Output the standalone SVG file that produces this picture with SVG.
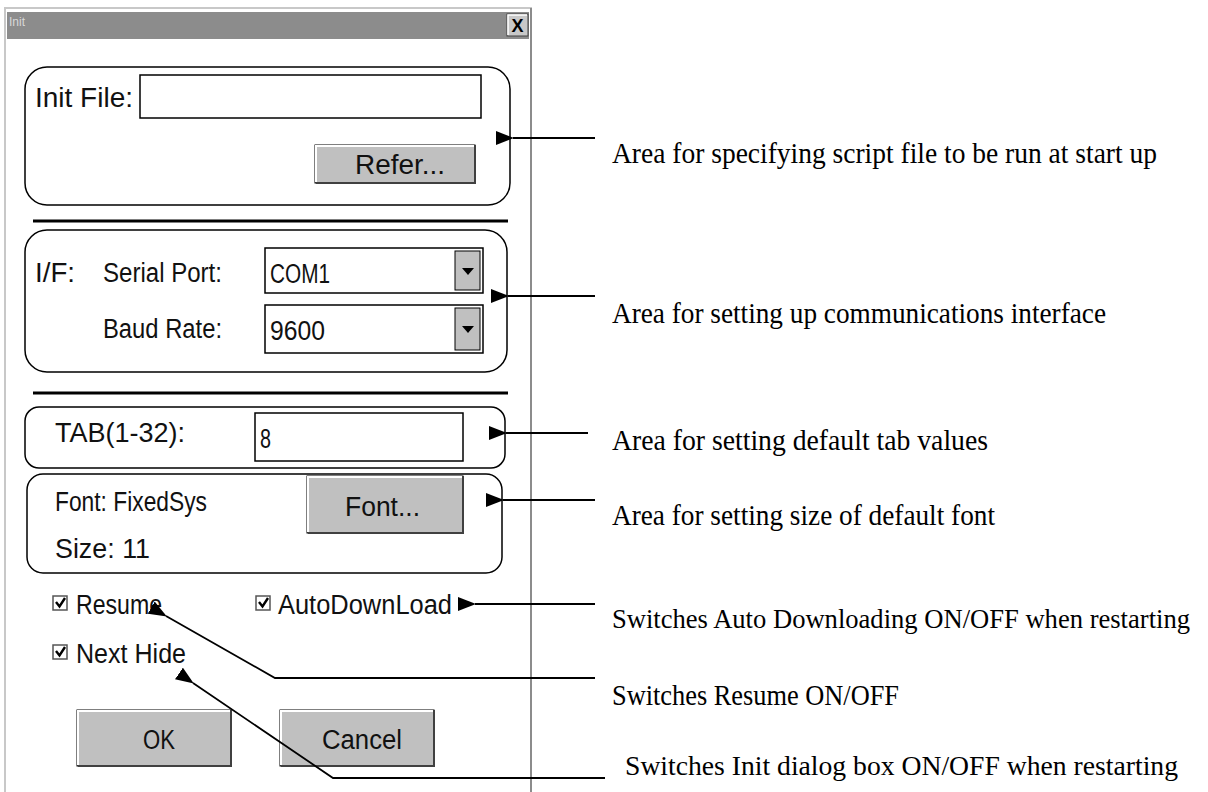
<svg xmlns="http://www.w3.org/2000/svg" width="1208" height="792" viewBox="0 0 1208 792">
<defs>
<style>
.ui{font-family:"Liberation Sans","DejaVu Sans",sans-serif;font-size:27px;fill:#111;}
.lbl{font-family:"Liberation Serif","DejaVu Serif",serif;font-size:30px;fill:#000;}
.lbs{font-size:27px;}
.grp{fill:none;stroke:#000;stroke-width:1.5;}
.btn{fill:#c0c0c0;stroke:#000;stroke-width:1;}
.hl{stroke:#fff;stroke-width:2;fill:none;}
.sh{stroke:#404040;stroke-width:2;fill:none;}
.fld{fill:#fff;stroke:#000;stroke-width:1.5;}
.cb{fill:#fff;stroke:#555;stroke-width:1.5;}
.con{fill:none;stroke:#000;stroke-width:1.8;}
</style>
<marker id="ah" viewBox="0 0 18 14" refX="1" refY="7" markerWidth="18" markerHeight="14" markerUnits="userSpaceOnUse" orient="auto">
<path d="M0,7 L18,0 L18,14 z" fill="#000"/>
</marker>
</defs>
<rect width="1208" height="792" fill="#fff"/>

<g id="window">
<rect x="5" y="8" width="526" height="790" fill="#fff" stroke="#c8c8c8" stroke-width="2"/>
<line x1="531" y1="8" x2="531" y2="792" stroke="#8c8c8c" stroke-width="2"/>
<rect x="7" y="12" width="522" height="27" fill="#8c8c8c"/>
<text x="9" y="26" font-family="Liberation Sans,sans-serif" font-size="12" fill="#d8d8d8">Init</text>
<g id="close">
<rect x="507" y="14" width="21" height="22" fill="#c8c8c8" stroke="#404040" stroke-width="1"/>
<polyline points="508,35 508,15 527,15" fill="none" stroke="#fff" stroke-width="1.5"/>
<text x="517.5" y="32" text-anchor="middle" font-family="Liberation Sans,sans-serif" font-weight="bold" font-size="18" fill="#000">X</text>
</g>
</g>

<g id="initfile">
<rect class="grp" x="25" y="67" width="485" height="138" rx="22"/>
<text class="ui" x="35" y="107" textLength="98" lengthAdjust="spacingAndGlyphs">Init File:</text>
<rect class="fld" x="140" y="75" width="341" height="43"/>
<g id="refer">
<rect class="btn" x="315" y="145" width="160" height="38"/>
<polyline class="hl" points="316,182 316,146 474,146"/>
<polyline class="sh" points="316,183 475,183 475,145"/>
<text class="ui" x="355" y="174" textLength="90" lengthAdjust="spacingAndGlyphs">Refer...</text>
</g>
</g>

<line x1="33" y1="221" x2="508" y2="221" stroke="#000" stroke-width="3"/>

<g id="iface">
<rect class="grp" x="25" y="230" width="482" height="142" rx="22"/>
<text class="ui" x="35" y="282" textLength="40" lengthAdjust="spacingAndGlyphs">I/F:</text>
<text class="ui" x="103" y="282" textLength="119" lengthAdjust="spacingAndGlyphs">Serial Port:</text>
<rect class="fld" x="265" y="248" width="218" height="45"/>
<text class="ui" x="270" y="283" textLength="60" lengthAdjust="spacingAndGlyphs">COM1</text>
<rect class="btn" x="455" y="251" width="25" height="39"/>
<path d="M462,268 L474,268 L468,275 z" fill="#000"/>
<text class="ui" x="103" y="338" textLength="119" lengthAdjust="spacingAndGlyphs">Baud Rate:</text>
<rect class="fld" x="265" y="305" width="218" height="48"/>
<text class="ui" x="270" y="340" textLength="55" lengthAdjust="spacingAndGlyphs">9600</text>
<rect class="btn" x="455" y="308" width="25" height="42"/>
<path d="M462,326 L474,326 L468,333 z" fill="#000"/>
</g>

<line x1="33" y1="393" x2="508" y2="393" stroke="#000" stroke-width="3"/>

<g id="tab">
<rect class="grp" x="25" y="407" width="480" height="61" rx="14"/>
<text class="ui" x="55" y="442" textLength="130" lengthAdjust="spacingAndGlyphs">TAB(1-32):</text>
<rect class="fld" x="255" y="413" width="208" height="48"/>
<text class="ui" x="260" y="448" textLength="11" lengthAdjust="spacingAndGlyphs">8</text>
</g>

<g id="font">
<rect class="grp" x="27" y="474" width="475" height="99" rx="16"/>
<text class="ui" x="55" y="511" textLength="152" lengthAdjust="spacingAndGlyphs">Font: FixedSys</text>
<text class="ui" x="55" y="558" textLength="95" lengthAdjust="spacingAndGlyphs">Size:  11</text>
<g id="fontbtn">
<rect class="btn" x="307" y="476" width="156" height="57"/>
<polyline class="hl" points="308,532 308,477 462,477"/>
<polyline class="sh" points="308,533 463,533 463,476"/>
<text class="ui" x="345" y="516" textLength="75" lengthAdjust="spacingAndGlyphs">Font...</text>
</g>
</g>

<g id="resume">
<rect class="cb" x="53" y="596" width="14" height="14"/>
<path d="M56,602 L59.5,606.5 L65,598" fill="none" stroke="#000" stroke-width="2.4"/>
<text class="ui" x="76" y="614" textLength="86" lengthAdjust="spacingAndGlyphs">Resume</text>
</g>
<g id="autodl">
<rect class="cb" x="256" y="596" width="14" height="14"/>
<path d="M259,602 L262.5,606.5 L268,598" fill="none" stroke="#000" stroke-width="2.4"/>
<text class="ui" x="278" y="614" textLength="174" lengthAdjust="spacingAndGlyphs">AutoDownLoad</text>
</g>
<g id="nexthide">
<rect class="cb" x="53" y="645" width="14" height="14"/>
<path d="M56,651 L59.5,655.5 L65,647" fill="none" stroke="#000" stroke-width="2.4"/>
<text class="ui" x="76" y="663" textLength="110" lengthAdjust="spacingAndGlyphs">Next Hide</text>
</g>

<g id="ok">
<rect class="btn" x="77" y="710" width="154" height="56"/>
<polyline class="hl" points="78,765 78,711 230,711"/>
<polyline class="sh" points="78,766 231,766 231,710"/>
<text class="ui" x="143" y="749" textLength="32" lengthAdjust="spacingAndGlyphs">OK</text>
</g>
<g id="cancel">
<rect class="btn" x="280" y="710" width="154" height="56"/>
<polyline class="hl" points="281,765 281,711 433,711"/>
<polyline class="sh" points="281,766 434,766 434,710"/>
<text class="ui" x="322" y="749" textLength="80" lengthAdjust="spacingAndGlyphs">Cancel</text>
</g>

<g id="connectors">
<line class="con" x1="595" y1="138" x2="513" y2="138" marker-end="url(#ah)"/>
<line class="con" x1="595" y1="296" x2="508" y2="296" marker-end="url(#ah)"/>
<line class="con" x1="588" y1="433" x2="506" y2="433" marker-end="url(#ah)"/>
<line class="con" x1="595" y1="500" x2="503" y2="500" marker-end="url(#ah)"/>
<line class="con" x1="595" y1="604" x2="475" y2="604" marker-end="url(#ah)"/>
<polyline class="con" points="595,678 275,678 166,616" marker-end="url(#ah)"/>
<polyline class="con" points="605,778 333,778 193,683" marker-end="url(#ah)"/>
</g>

<g id="labels">
<text class="lbl" x="612" y="163" textLength="545" lengthAdjust="spacingAndGlyphs">Area for specifying script file to be run at start up</text>
<text class="lbl" x="612" y="323" textLength="494" lengthAdjust="spacingAndGlyphs">Area for setting up communications interface</text>
<text class="lbl" x="612" y="450" textLength="376" lengthAdjust="spacingAndGlyphs">Area for setting default tab values</text>
<text class="lbl" x="612" y="525" textLength="383" lengthAdjust="spacingAndGlyphs">Area for setting size of default font</text>
<text class="lbl lbs" x="612" y="628" textLength="578" lengthAdjust="spacingAndGlyphs">Switches Auto Downloading ON/OFF when restarting</text>
<text class="lbl" x="612" y="705" textLength="287" lengthAdjust="spacingAndGlyphs">Switches Resume ON/OFF</text>
<text class="lbl lbs" x="625" y="775" textLength="553" lengthAdjust="spacingAndGlyphs">Switches Init dialog box ON/OFF when restarting</text>
</g>
</svg>
